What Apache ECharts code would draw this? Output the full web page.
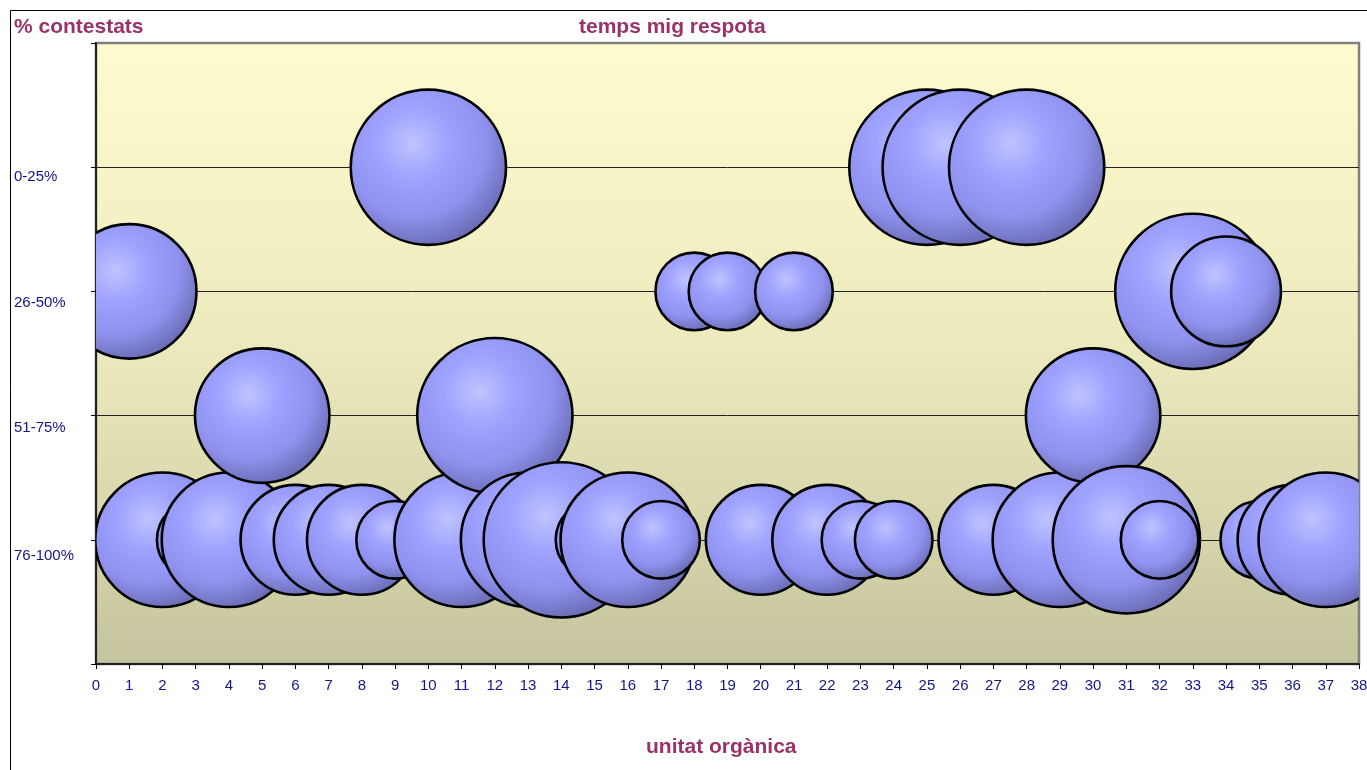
<!DOCTYPE html>
<html>
<head>
<meta charset="utf-8">
<script src="https://cdn.jsdelivr.net/npm/echarts@6/dist/echarts.min.js"></script>
<style>
  html, body { margin: 0; padding: 0; background: #fff; }
  #chart { width: 1367px; height: 770px; }
</style>
</head>
<body>
<div id="chart"></div>
<script>
// Unitats orgàniques (eix X)
const units = [1, 2, 3, 4, 5, 6, 7, 8, 9, 10, 11, 12, 13, 14, 15, 16, 17, 18, 19,
               20, 21, 22, 23, 24, 25, 26, 27, 28, 29, 30, 31, 32, 33, 34, 35, 36, 37];

// Franges de % contestats (eix Y, de baix a dalt)
const bands = ['76-100%', '51-75%', '26-50%', '0-25%'];

// Franja de cada unitat
const contestats = [
  '26-50%', '76-100%', '76-100%', '76-100%', '51-75%', '76-100%', '76-100%', '76-100%',
  '76-100%', '0-25%', '76-100%', '51-75%', '76-100%', '76-100%', '76-100%', '76-100%',
  '76-100%', '26-50%', '26-50%', '76-100%', '26-50%', '76-100%', '76-100%', '76-100%',
  '0-25%', '0-25%', '76-100%', '0-25%', '76-100%', '51-75%', '76-100%', '76-100%',
  '26-50%', '26-50%', '76-100%', '76-100%', '76-100%'
];

// Temps mig de resposta (mida de la bombolla)
const tempsMig = [
  3, 3, 1, 3, 3, 2, 2, 2, 1, 4, 3, 4, 3, 4, 1, 3, 1, 1, 1, 2,
  1, 2, 1, 1, 4, 4, 2, 4, 3, 3, 3.6, 1, 4, 2, 1, 2, 3
];

const xMin = 0, xMax = 38;

const bubbleData = units.map((u, i) => [u, bands.indexOf(contestats[i]) + 1, tempsMig[i]]);
const maxSize = Math.max(...tempsMig);

const textFont = "'Liberation Sans', Arial, sans-serif";
const titleColor = '#993366';
const labelColor = '#141489';

// Per-band vertical nudge of the Y labels (px)
const bandLabelShift = { '0-25%': 10, '26-50%': 11, '51-75%': 12, '76-100%': 16 };
const rich = {};
bands.forEach((b, i) => {
  rich['b' + i] = {
    color: labelColor, fontSize: 15, fontFamily: textFont,
    padding: [bandLabelShift[b] * 2, 0, 0, 0]
  };
});

const chart = echarts.init(document.getElementById('chart'), null, { renderer: 'canvas' });

const titleStyle = { fontSize: 21, fontWeight: 'bold', color: titleColor, fontFamily: textFont };

chart.setOption({
  backgroundColor: '#ffffff',
  animation: false,
  title: [
    { text: '% contestats', left: 14, top: 17, padding: 0, textStyle: titleStyle },
    { text: 'temps mig respota', left: 579, top: 17, padding: 0, textStyle: titleStyle },
    { text: 'unitat orgànica', left: 646, top: 737, padding: 0, textStyle: titleStyle }
  ],
  graphic: [
    {
      type: 'rect', silent: true, z: 100,
      shape: { x: 10.5, y: 10.5, width: 1400, height: 800 },
      style: { fill: 'none', stroke: '#000', lineWidth: 1 }
    }
  ],
  grid: {
    left: 96, right: 8, top: 43, bottom: 106,
    outerBoundsMode: 'none',
    show: true,
    borderColor: '#808080',
    borderWidth: 2.5,
    backgroundColor: new echarts.graphic.LinearGradient(0, 0, 0, 1, [
      { offset: 0, color: '#fefcce' },
      { offset: 0.45, color: '#eeecbf' },
      { offset: 0.75, color: '#d9d8ad' },
      { offset: 1, color: '#c3c39e' }
    ])
  },
  xAxis: {
    type: 'value', min: xMin, max: xMax, interval: 1,
    axisLine: { show: true, onZero: false, lineStyle: { color: '#000', width: 1.5 } },
    axisTick: { show: true, length: 5, inside: false, lineStyle: { color: '#000', width: 1 } },
    axisLabel: { show: true, interval: 0, margin: 14, color: labelColor, fontSize: 15, fontFamily: textFont },
    splitLine: { show: false }
  },
  yAxis: {
    type: 'value', min: 0, max: bands.length + 1, interval: 1,
    axisLine: { show: true, onZero: false, lineStyle: { color: '#000', width: 1.5 } },
    axisTick: { show: true, length: 5, inside: false, lineStyle: { color: '#000', width: 1 } },
    axisLabel: {
      show: true, align: 'left', margin: 82,
      color: labelColor, fontSize: 15, fontFamily: textFont,
      formatter: v => {
        const i = Math.round(v) - 1;
        return (i >= 0 && i < bands.length) ? '{b' + i + '|' + bands[i] + '}' : '';
      },
      rich: rich
    },
    splitLine: {
      show: true, showMinLine: false, showMaxLine: false,
      lineStyle: { color: '#222', width: 1 }
    }
  },
  series: [
    {
      type: 'custom',
      clip: true,
      data: bubbleData,
      encode: { x: 0, y: 1 },
      renderItem: (params, api) => {
        const p = api.coord([api.value(0), api.value(1)]);
        // largest bubble spans a quarter of the plot height
        const rMax = params.coordSys.height * 0.25 / 2;
        const r = rMax * Math.sqrt(api.value(2) / maxSize);
        return {
          type: 'circle',
          shape: { cx: p[0], cy: p[1], r: r },
          style: {
            fill: new echarts.graphic.RadialGradient(0.4, 0.35, 0.75, [
              { offset: 0, color: '#c0c3ff' },
              { offset: 0.3, color: '#a0a2ff' },
              { offset: 0.62, color: '#8f91ee' },
              { offset: 1, color: '#5b5d9c' }
            ]),
            stroke: '#000',
            lineWidth: 2.6
          }
        };
      }
    }
  ]
});
</script>
</body>
</html>
